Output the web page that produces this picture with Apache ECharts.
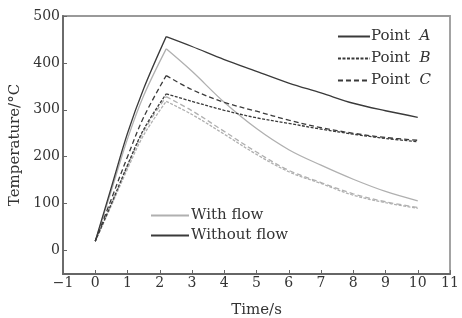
<!DOCTYPE html>
<html>
<head>
    <meta charset="UTF-8">
    <title></title>
</head>
<body style="margin:0">
<div id="main" style="width: 462px;height:318px"></div>
</body>
<script type="text/javascript" src="https://cdn.jsdelivr.net/npm/echarts@6/dist/echarts.min.js"></script>
<script type="text/javascript">
    // 数据 (时间 s, 温度 °C)，峰值在下标 4
    var times = [0, 0.5, 1, 1.5, 2.2, 3, 4, 5, 6, 7, 8, 9, 10];
    var aWithout = [20, 135, 250, 345, 456, 435, 407, 382, 357, 336, 314, 298, 284];
    var aWith = [20, 128, 238, 330, 430, 382, 316, 260, 215, 182, 152, 126, 106];
    var bWithout = [20, 100, 182, 258, 334, 318, 299, 283, 271, 259, 248, 239, 232];
    var bWith = [20, 96, 174, 246, 318, 290, 248, 205, 168, 143, 118, 102, 90];
    var cWithout = [20, 110, 200, 284, 373, 343, 316, 297, 278, 262, 250, 241, 235];
    var cWith = [20, 98, 180, 254, 328, 298, 254, 210, 171, 145, 121, 104, 92];
    var peak = 4;
    var xTicks = [-1, 0, 1, 2, 3, 4, 5, 6, 7, 8, 9, 10, 11];
    var yTicks = [0, 100, 200, 300, 400, 500];

    var dark = '#3a3a3a';
    var light = '#b0b0b0';
    var dashB = [3, 1.5];
    var dashC = [5, 3];

    function pairs(ys, from, to) {
        var out = [];
        for (var i = from; i <= to; i++) out.push([times[i], ys[i]]);
        return out;
    }
    function seg(name, data, color, type) {
        return {
            name: name, type: 'line', data: data,
            symbol: 'none', silent: true, smooth: 0.35,
            lineStyle: {color: color, width: 1.3, type: type},
            itemStyle: {color: color, opacity: 0}
        };
    }
    // 上升段和下降段分开画，保持尖峰
    function curve(name, ys, color, type) {
        return [
            seg(name, pairs(ys, 0, peak), color, type),
            seg(name, pairs(ys, peak, times.length - 1), color, type)
        ];
    }

    var myChart = echarts.init(document.getElementById('main'));
    var font = 'DejaVu Serif';
    var series = [].concat(
        curve('A with flow', aWith, light, 'solid'),
        curve('B with flow', bWith, light, dashB),
        curve('C with flow', cWith, light, dashC),
        curve('A without flow', aWithout, dark, 'solid'),
        curve('B without flow', bWithout, dark, dashB),
        curve('C without flow', cWithout, dark, dashC),
        // 图例用
        [seg('Point A', [], dark, 'solid'),
         seg('Point B', [], dark, dashB),
         seg('Point C', [], dark, dashC),
         seg('With flow', [], light, 'solid'),
         seg('Without flow', [], dark, 'solid')]
    );
    var option = {
        animation: false,
        grid: {
            left: 63, right: 12, top: 16, bottom: 44,
            outerBoundsMode: 'none',
            show: true, borderColor: '#999', borderWidth: 1.8
        },
        legend: [
            {
                data: ['Point A', 'Point B', 'Point C'],
                orient: 'vertical', right: 26, top: 24,
                itemWidth: 32, itemHeight: 10, itemGap: 7,
                itemStyle: {opacity: 0},
                textStyle: {
                    fontFamily: font, fontSize: 15, color: '#333', padding: [0, 0, 0, -4],
                    rich: {i: {fontFamily: font, fontSize: 15, fontStyle: 'italic', color: '#333'}}
                },
                formatter: function (name) {
                    return 'Point  {i|' + name.slice(-1) + '}';
                }
            },
            {
                data: ['With flow', 'Without flow'],
                orient: 'vertical', left: 145, top: 203,
                itemWidth: 38, itemHeight: 10, itemGap: 5,
                itemStyle: {opacity: 0},
                textStyle: {fontFamily: font, fontSize: 15, color: '#333', padding: [0, 0, 0, -3]}
            }
        ],
        xAxis: {
            type: 'value', min: -1, max: 11, interval: 1,
            name: 'Time/s', nameLocation: 'middle', nameGap: 29,
            nameTextStyle: {fontFamily: font, fontSize: 15, color: '#333'},
            axisLine: {onZero: false, lineStyle: {color: '#666', width: 1.8}},
            axisTick: {inside: true, length: 4, lineStyle: {color: '#666'}},
            axisLabel: {
                fontFamily: font, fontSize: 14, color: '#333', margin: 2,
                customValues: xTicks,
                formatter: function (v) { return String(v).replace('-', '\u2212'); }
            },
            splitLine: {show: false}
        },
        yAxis: {
            type: 'value', min: -50, max: 500,
            name: 'Temperature/°C', nameLocation: 'middle', nameGap: 38,
            nameTextStyle: {fontFamily: font, fontSize: 15, color: '#333'},
            axisLine: {onZero: false, lineStyle: {color: '#666', width: 1.8}},
            axisTick: {inside: true, length: 4, lineStyle: {color: '#666'}, customValues: yTicks},
            axisLabel: {
                fontFamily: font, fontSize: 14, color: '#333', margin: 3,
                customValues: yTicks
            },
            splitLine: {show: false}
        },
        series: series
    };
    myChart.setOption(option);
</script>
</html>
